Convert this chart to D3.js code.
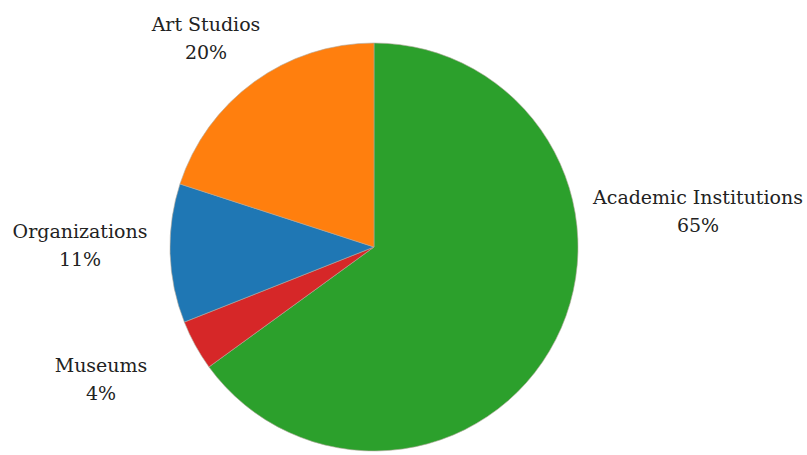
<!DOCTYPE html>
<html>
<head>
<meta charset="utf-8">
<script src="https://cdn.jsdelivr.net/npm/d3@7"></script>
<style>
  html, body { margin: 0; padding: 0; background: #fff; }
  svg { display: block; }
</style>
</head>
<body>
<svg id="chart" width="807" height="455"></svg>
<script>
// Share of respondents by institution type, clockwise from 12 o'clock
const categories = ["Academic Institutions", "Museums", "Organizations", "Art Studios"];
const shares = [65, 4, 11, 20];
const colors = ["#2ca02c", "#d62728", "#1f77b4", "#ff7f0e"];

const width = 807, height = 455;
const cx = 374, cy = 247, radius = 204;

// Label anchor offsets from the pie centre (text centre x, first baseline y)
const labelOffsets = {
  "Academic Institutions": [324, -43],
  "Museums": [-273, 125],
  "Organizations": [-294, -9],
  "Art Studios": [-168, -216]
};
const lineHeight = 28;
const labelFont = "'DejaVu Serif', serif";
const widestLabelWidth = 210;   // desired width of the longest label line

const data = categories.map((c, i) => ({ category: c, value: shares[i], color: colors[i] }));

const pie = d3.pie().sort(null).value(d => d.value);
const arc = d3.arc().innerRadius(0).outerRadius(radius);

const svg = d3.select("#chart");
const g = svg.append("g").attr("transform", `translate(${cx},${cy})`);

g.selectAll("path.slice")
  .data(pie(data))
  .join("path")
  .attr("class", "slice")
  .attr("d", arc)
  .attr("fill", d => d.data.color)
  .attr("stroke", "#b0a89a")
  .attr("stroke-width", 0.6);

const labels = g.selectAll("text.label")
  .data(pie(data))
  .join("text")
  .attr("class", "label")
  .attr("text-anchor", "middle")
  .attr("font-family", labelFont)
  .attr("font-size", 24)
  .attr("fill", "#222")
  .attr("transform", d => {
    const [dx, dy] = labelOffsets[d.data.category];
    return `translate(${dx},${dy})`;
  });

labels.append("tspan")
  .attr("class", "name")
  .attr("x", 0)
  .attr("y", 0)
  .text(d => d.data.category);

labels.append("tspan")
  .attr("x", 0)
  .attr("y", lineHeight)
  .text(d => `${d.data.value}%`);

// Fit the font size so the widest name has the intended width
let widest = 0;
labels.selectAll("tspan.name").each(function () {
  widest = Math.max(widest, this.getComputedTextLength());
});
if (widest > 0) {
  labels.attr("font-size", 24 * widestLabelWidth / widest);
}
</script>
</body>
</html>
